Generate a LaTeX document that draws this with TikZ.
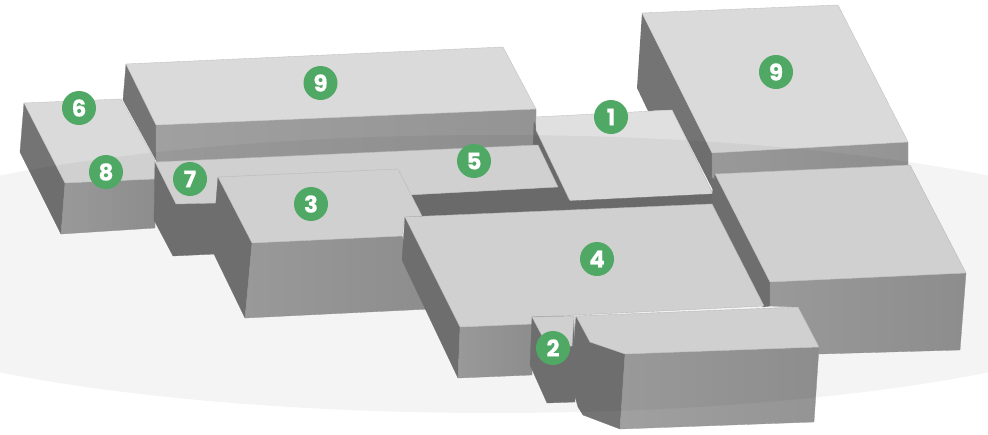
\documentclass[tikz,border=0pt]{standalone}
\usepackage{fontspec}
\setmainfont{Poppins}[BoldFont={Poppins Bold},BoldFeatures={FakeBold=0.5}]
\definecolor{roofc}{HTML}{DADADA}
\definecolor{rooflight}{HTML}{E0E0E0}
\definecolor{edgec}{HTML}{C2C2C2}
\definecolor{leftc}{HTML}{737473}
\definecolor{bandc}{HTML}{6F6F6F}
\definecolor{frontl}{HTML}{A0A0A0}
\definecolor{frontr}{HTML}{949494}
\definecolor{badgec}{HTML}{4FA864}
\tikzset{
  roofface/.style={fill=roofc,draw=edgec,line width=0.4pt,line join=round},
  leftface/.style={fill=leftc,draw=leftc,line width=0.3pt,line join=round},
  frontface/.style={left color=frontl,right color=frontr,draw=frontr,line width=0.3pt,line join=round},
  floorface/.style={fill=bandc,draw=bandc,line width=0.3pt},
  badge/.style={circle,fill=badgec,minimum size=34pt,inner sep=0pt,text=white,font=\fontsize{23}{23}\selectfont\bfseries}
}
\begin{document}
\begin{tikzpicture}[x=1pt,y=-1pt]
\useasboundingbox (0,0) rectangle (988,434);
% right tall block
\fill[leftc] (642,13) -- (637,88) -- (648,111) -- (672,110) -- (716,196) -- (712,153) -- cycle;
\draw[frontface] (712,153) -- (908,142) -- (908,166) -- (712,178) -- cycle;
\draw[roofface] (642,13) -- (838,5) -- (908,142) -- (712,153) -- cycle;
% long block
\draw[leftface] (126,64) -- (123,100) -- (156,160) -- (156,125) -- cycle;
\draw[frontface] (156,125) -- (536,109) -- (536,146) -- (156,163) -- cycle;
\draw[roofface] (126,64) -- (503,47) -- (536,109) -- (156,125) -- cycle;
% block 1
\draw[floorface] (534,122) -- (572,201) -- (556,190) -- (533,147) -- cycle;
\draw[roofface,fill=rooflight] (536,117) -- (672,110) -- (713,194) -- (570,201) -- (536,130) -- cycle;
\draw[floorface] (408,195) -- (558,187) -- (570,201) -- (713,194) -- (714,206) -- (408,220) -- cycle;
% block 6/8
\draw[leftface] (24,103) -- (20,152) -- (61,234) -- (65,183) -- cycle;
\draw[frontface] (65,183) -- (155,179) -- (155,228) -- (61,234) -- cycle;
\draw[roofface] (24,103) -- (121,99) -- (155,160) -- (155,179) -- (65,183) -- cycle;
% block 7
\draw[leftface] (155,162) -- (154,220) -- (173,256) -- (216,254) -- (218,200) -- (176,204) -- cycle;
% roof 5/7
\draw[roofface] (155,162) -- (538,145) -- (558,187) -- (408,195) -- (395,172) -- (218,178) -- (217,203) -- (176,204) -- cycle;
% block 3
\draw[leftface] (218,177) -- (212,250) -- (245,318) -- (252,243) -- cycle;
\draw[frontface] (252,243) -- (402,236) -- (430,309) -- (245,318) -- cycle;
\draw[roofface] (218,177) -- (398,169) -- (422,216) -- (405,217) -- (402,236) -- (252,243) -- cycle;
% middle right block
\draw[leftface] (715,174) -- (711,204) -- (763,307) -- (770,306) -- (770,282) -- cycle;
\draw[frontface] (770,282) -- (966,273) -- (960,350) -- (819,354) -- (798,307) -- (770,306) -- cycle;
\draw[roofface] (715,174) -- (910,165) -- (966,273) -- (770,282) -- cycle;
% block 4
\draw[leftface] (405,217) -- (402,260) -- (458,378) -- (460,327) -- cycle;
\draw[frontface] (460,327) -- (533,324) -- (532,375) -- (458,378) -- cycle;
\draw[roofface] (405,217) -- (712,204) -- (764,306) -- (577,315) -- (532,317) -- (533,324) -- (460,327) -- cycle;
% block 2
\draw[leftface] (532,317) -- (530,365) -- (547,403) -- (575,402) -- (574,316) -- cycle;
\draw[roofface] (532,317) -- (574,316) -- (572,346) -- (548,347) -- cycle;
% chamfered block
\draw[leftface] (576,316) -- (571,383) -- (578,407) -- (583,415) -- (620,429) -- (625,354) -- (590,342) -- cycle;
\draw[frontface] (625,354) -- (819,347) -- (814,422) -- (620,429) -- cycle;
\draw[roofface] (576,316) -- (798,307) -- (819,347) -- (625,354) -- (590,342) -- cycle;
% translucent ground ellipse over everything
\fill[black,opacity=0.045] (494,274) ellipse [x radius=700,y radius=139];
% badges
\node[badge] (n9a) at (320.5,83) {9};
\node[badge] (n9b) at (776,72) {9};
\node[badge] (n6) at (79,108) {6};
\node[badge] (n8) at (106,172) {8};
\node[badge] (n7) at (190,179) {7};
\node[badge] (n3) at (311,204) {3};
\node[badge] (n5) at (474,161) {5};
\node[badge] (n1) at (611,117) {1};
\node[badge] (n4) at (597,259) {4};
\node[badge] (n2) at (553,348) {2};
\end{tikzpicture}
\end{document}
